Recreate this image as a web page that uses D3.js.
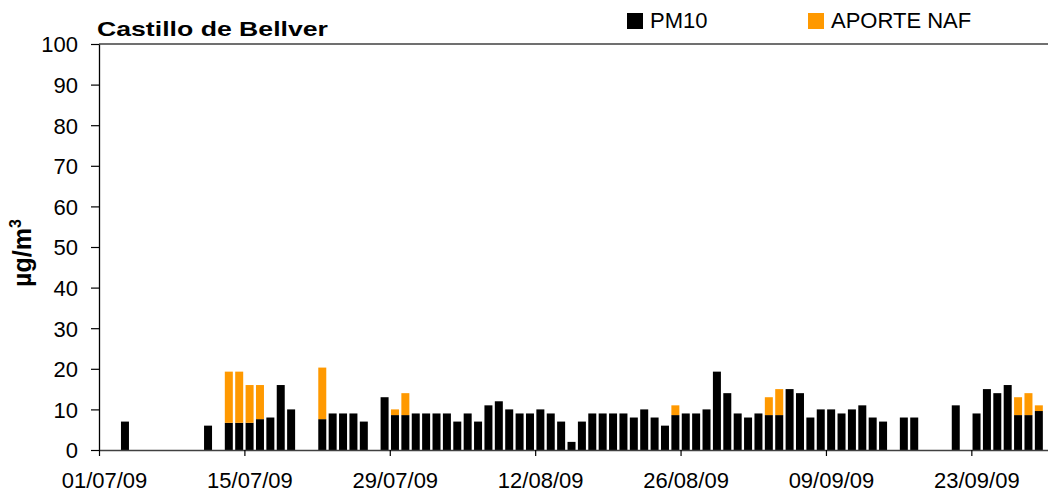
<!DOCTYPE html>
<html>
<head>
<meta charset="utf-8">
<script src="https://cdn.jsdelivr.net/npm/d3@7"></script>
<style>
  body { margin: 0; background: #fff; }
  svg text { font-family: "Liberation Sans", Arial, sans-serif; }
</style>
</head>
<body>
<div id="chart"></div>
<script>
// daily values from 01/07/09 to 30/09/09 (null = no data)
var pm10 = [
  null, null, 7, null, null, null, null, null, null, null,
  6, null, 6.7, 6.7, 6.7, 7.6, 8, 16, 10, null,
  null, 7.6, 9, 9, 9, 7, null, 13, 8.6, 8.6,
  9, 9, 9, 9, 7, 9, 7, 11, 12, 10,
  9, 9, 10, 9, 7, 2, 7, 9, 9, 9,
  9, 8, 10, 8, 6, 8.6, 9, 9, 10, 19.3,
  14, 9, 8, 9, 8.6, 8.6, 15, 14, 8, 10,
  10, 9, 10, 11, 8, 7, null, 8, 8, null,
  null, null, 11, null, 9, 15, 14, 16, 8.6, 8.6,
  9.6, null
];
var naf = [
  null, null, null, null, null, null, null, null, null, null,
  null, null, 12.6, 12.6, 9.3, 8.4, null, null, null, null,
  null, 12.7, null, null, null, null, null, null, 1.4, 5.4,
  null, null, null, null, null, null, null, null, null, null,
  null, null, null, null, null, null, null, null, null, null,
  null, null, null, null, null, 2.4, null, null, null, null,
  null, null, null, null, 4.4, 6.4, null, null, null, null,
  null, null, null, null, null, null, null, null, null, null,
  null, null, null, null, null, null, null, null, 4.4, 5.4,
  1.4, null
];
var yTicks = [0, 10, 20, 30, 40, 50, 60, 70, 80, 90, 100];
var xTickLabels = ["01/07/09", "15/07/09", "29/07/09", "12/08/09", "26/08/09", "09/09/09", "23/09/09"];
var seriesNames = ["PM10", "APORTE NAF"];
var seriesColors = ["#000000", "#ff9900"];

var W = 1048, H = 498;
var mLeft = 99, mTop = 44, mBottom = 450;
var start = new Date(2009, 6, 1), end = new Date(2009, 9, 1);
var days = d3.timeDay.range(start, end);
var mRight = mLeft + days.length * 10.385;

var parse = d3.timeParse("%d/%m/%y");
var fmt = d3.timeFormat("%d/%m/%y");

var x = d3.scaleTime().domain([start, end]).range([mLeft, mRight]);
var y = d3.scaleLinear().domain([0, 100]).range([mBottom, mTop]);
var dayW = x(d3.timeDay.offset(start, 1)) - x(start);
var barW = dayW * 0.77;

var svg = d3.select("#chart").append("svg").attr("width", W).attr("height", H);

// plot frame (top border)
svg.append("line").attr("x1", mLeft).attr("x2", mRight).attr("y1", mTop).attr("y2", mTop)
  .style("stroke", "#404040").style("stroke-width", 1.3);

var rows = days.map(function(d, i) { return {date: d, pm: pm10[i], naf: naf[i]}; });

svg.append("g").selectAll("rect")
  .data(rows.filter(function(d) { return d.pm != null; })).enter().append("rect")
  .attr("x", function(d) { return x(d.date) + (dayW - barW) / 2; })
  .attr("width", barW)
  .attr("y", function(d) { return y(d.pm); })
  .attr("height", function(d) { return y(0) - y(d.pm); })
  .style("fill", seriesColors[0]);

svg.append("g").selectAll("rect")
  .data(rows.filter(function(d) { return d.naf != null; })).enter().append("rect")
  .attr("x", function(d) { return x(d.date) + (dayW - barW) / 2; })
  .attr("width", barW)
  .attr("y", function(d) { return y(d.pm + d.naf); })
  .attr("height", function(d) { return y(d.pm) - y(d.pm + d.naf); })
  .style("fill", seriesColors[1]);

// y axis
var yAxis = svg.append("g").attr("transform", "translate(" + mLeft + ",0)")
  .call(d3.axisLeft(y).tickValues(yTicks).tickSize(8).tickPadding(13).tickSizeOuter(0));
yAxis.select(".domain").style("stroke", "#000").style("stroke-width", 1.3);
yAxis.selectAll(".tick line").style("stroke", "#000").style("stroke-width", 1.2);
yAxis.selectAll("text").style("font-size", "22px").style("fill", "#000").attr("dy", "0.36em");

// x axis
var xAxis = svg.append("g").attr("transform", "translate(0," + mBottom + ")")
  .call(d3.axisBottom(x).tickValues(xTickLabels.map(parse)).tickFormat(fmt).tickSize(6).tickSizeOuter(0));
xAxis.select(".domain").style("stroke", "#404040").style("stroke-width", 1.3);
xAxis.selectAll(".tick line").style("stroke", "#000").style("stroke-width", 1.2);
xAxis.selectAll("text").style("font-size", "22px").style("fill", "#000")
  .attr("y", 38).attr("dy", 0).attr("x", 5);

// title
svg.append("text").attr("x", 97).attr("y", 36)
  .attr("textLength", 231).attr("lengthAdjust", "spacingAndGlyphs")
  .style("font-size", "21px").style("font-weight", "bold").text("Castillo de Bellver");

// y label
var yl = svg.append("text").attr("transform", "translate(31,253) rotate(-90)")
  .style("text-anchor", "middle").style("font-size", "25px").style("font-weight", "bold");
yl.append("tspan").text("µg/m");
yl.append("tspan").attr("dy", -10).style("font-size", "16px").text("3");

// legend
var legX = [627, 808];
seriesNames.forEach(function(name, i) {
  svg.append("rect").attr("x", legX[i]).attr("y", 13).attr("width", 16).attr("height", 16)
    .style("fill", seriesColors[i]);
  svg.append("text").attr("x", legX[i] + 23).attr("y", 28)
    .style("font-size", "22px").text(name);
});
</script>
</body>
</html>
